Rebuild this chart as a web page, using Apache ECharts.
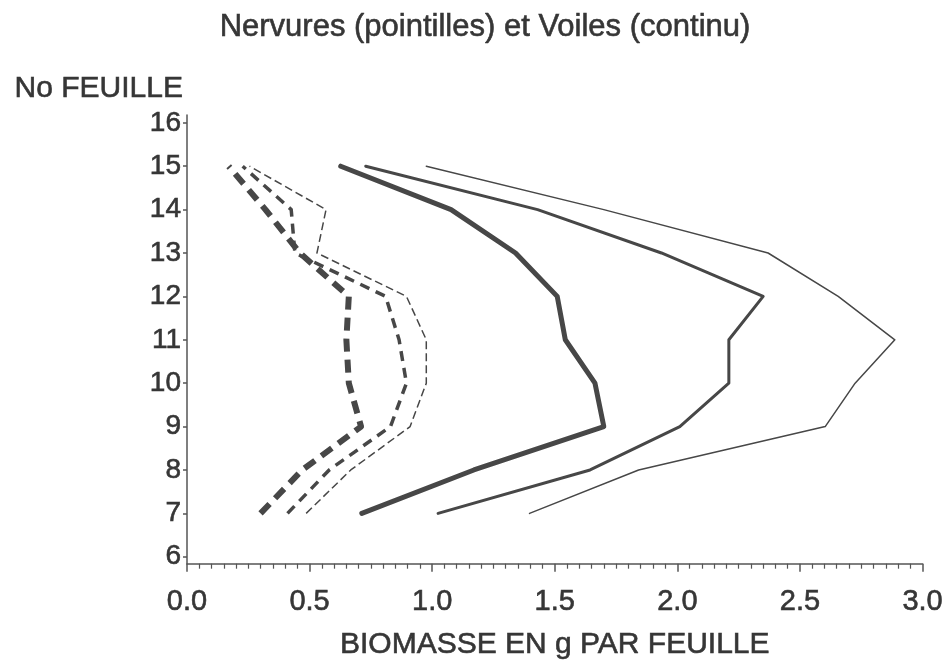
<!DOCTYPE html>
<html>
<head>
<meta charset="utf-8">
<script src="https://cdn.jsdelivr.net/npm/echarts@6/dist/echarts.min.js"></script>
<style>
html,body{margin:0;padding:0;background:#fff;}
#chart{width:946px;height:665px;}
</style>
</head>
<body>
<div id="chart"></div>
<script>
// Leaf numbers (y) and biomass values (x, g per leaf)
const leaves = [7, 8, 9, 10, 11, 12, 13, 14, 15];
const nervuresThick  = [0.30, 0.47, 0.71, 0.66, 0.65, 0.66, 0.46, 0.32, 0.17];
const nervuresMedium = [0.41, 0.58, 0.83, 0.895, 0.865, 0.81, 0.44, 0.425, 0.227];
const nervuresThin   = [0.486, 0.668, 0.91, 0.976, 0.976, 0.895, 0.53, 0.567, 0.255];
const voilesThick    = [0.713, 1.17, 1.70, 1.664, 1.543, 1.51, 1.34, 1.077, 0.627];
const voilesMedium   = [1.024, 1.644, 2.01, 2.21, 2.21, 2.35, 1.935, 1.43, 0.729];
const voilesThin     = [1.397, 1.842, 2.603, 2.725, 2.887, 2.656, 2.37, 1.70, 0.976];
const xTicks = [0, 0.5, 1.0, 1.5, 2.0, 2.5, 3.0];
const yTicks = [6, 7, 8, 9, 10, 11, 12, 13, 14, 15, 16];

const ink = '#474747';
const txt = '#363636';
const font = 'Liberation Sans, Arial, sans-serif';
const heavy = { textBorderColor: txt, textBorderWidth: 0.6 };

function pairs(vals) { return vals.map((v, i) => [v, leaves[i]]); }
function line(name, vals, width, dash) {
  return {
    name: name, type: 'line', data: pairs(vals), showSymbol: false, symbol: 'none',
    lineStyle: { color: ink, width: width, type: dash || 'solid', cap: dash ? 'butt' : 'round', join: 'round' },
    silent: true, animation: false
  };
}

const chart = echarts.init(document.getElementById('chart'), null, { renderer: 'canvas' });
chart.setOption({
  animation: false,
  backgroundColor: '#ffffff',
  title: {
    text: 'Nervures (pointilles) et Voiles (continu)',
    left: 480, top: 7, textAlign: 'center',
    textStyle: Object.assign({ fontFamily: font, fontSize: 31, fontWeight: 'normal', color: txt }, heavy)
  },
  grid: { left: 187, right: 18, top: 115, bottom: 101, containLabel: false },
  xAxis: {
    type: 'value', min: 0, max: 3, interval: 0.5,
    name: 'BIOMASSE EN g PAR FEUILLE', nameLocation: 'middle', nameGap: 66,
    nameTextStyle: Object.assign({ fontFamily: font, fontSize: 30, color: txt }, heavy),
    axisLine: { show: true, lineStyle: { color: '#555', width: 1.5 } },
    axisTick: { show: true, inside: false, length: 8, lineStyle: { color: '#555', width: 1.5 } },
    minorTick: { show: true, splitNumber: 10, length: 5, lineStyle: { color: '#555', width: 1.2 } },
    axisLabel: Object.assign({ margin: 24, fontFamily: font, fontSize: 29, color: txt,
      customValues: xTicks, formatter: v => v.toFixed(1) }, heavy),
    splitLine: { show: false }
  },
  yAxis: {
    type: 'value', min: 5.84, max: 16.18,
    name: 'No FEUILLE', nameLocation: 'end', nameGap: 26,
    nameTextStyle: Object.assign({ fontFamily: font, fontSize: 30, color: txt, align: 'right', verticalAlign: 'middle', padding: [0, 4, 0, 0] }, heavy),
    axisLine: { show: true, lineStyle: { color: '#555', width: 1.5 } },
    axisTick: { show: true, length: 4, customValues: yTicks, lineStyle: { color: '#555', width: 1.5 } },
    axisLabel: Object.assign({ margin: 6, fontFamily: font, fontSize: 28, color: txt, customValues: yTicks,
      formatter: v => String(Math.round(v)) }, heavy),
    splitLine: { show: false }
  },
  series: [
    line('Nervures 1', nervuresThick, 6, [13, 8]),
    line('Nervures 2', nervuresMedium, 3.5, [10, 7]),
    line('Nervures 3', nervuresThin, 1.5, [8, 4]),
    line('Voiles 1', voilesThick, 5),
    line('Voiles 2', voilesMedium, 3),
    line('Voiles 3', voilesThin, 1.5)
  ]
});
</script>
</body>
</html>
